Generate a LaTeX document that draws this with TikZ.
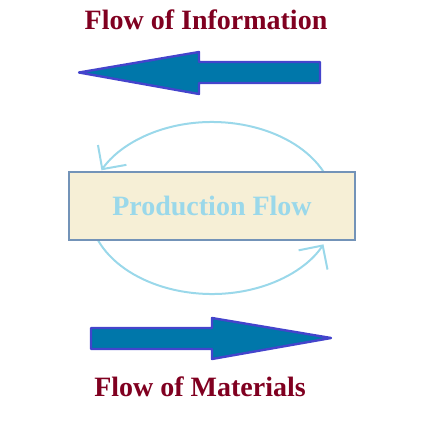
\documentclass[tikz,border=0pt]{standalone}
\usepackage{fontspec}
\setmainfont{Liberation Serif}
\usetikzlibrary{arrows.meta}
\definecolor{arrfill}{HTML}{0077AA}
\definecolor{arrline}{HTML}{4444CC}
\definecolor{boxfill}{HTML}{F6EFD6}
\definecolor{boxline}{HTML}{7393B8}
\definecolor{loopc}{HTML}{9AD8EA}
\definecolor{title}{HTML}{800020}
\tikzset{
  bigarrow/.style={draw=arrline, fill=arrfill, line width=1.8pt, line join=round},
  titletext/.style={font=\fontsize{21}{24}\selectfont\bfseries, text=title, inner sep=0pt, anchor=base},
  flowbox/.style={draw=boxline, fill=boxfill, line width=1.8pt, minimum width=214.5pt, minimum height=51pt, inner sep=0pt,
    font=\fontsize{21}{24}\selectfont\bfseries, text=loopc},
  loopline/.style={draw=loopc, line width=1.5pt, -{Straight Barb[length=13pt,width=26pt,line width=1.5pt]}}
}
\begin{document}
\begin{tikzpicture}[x=0.75pt,y=-0.75pt]
\useasboundingbox (0,0) rectangle (424,428);
% titles
\node[titletext] (info) at (206,30) {Flow of Information};
\node[titletext] (mat) at (200,396) {Flow of Materials};
% top arrow (pointing left)
\path[bigarrow] (320,62) -- (199,62) -- (199,52) -- (79,72.5) -- (199,94) -- (199,83) -- (320,83) -- cycle;
% bottom arrow (pointing right)
\path[bigarrow] (91,328) -- (212,328) -- (212,318) -- (331,338) -- (212,359) -- (212,349) -- (91,349) -- cycle;
% loop arcs
\coordinate (c) at (212,208);
\draw[loopline] ([shift={(-25:123 and 86)}]c) arc[start angle=-25, end angle=-154, x radius=123, y radius=86];
\draw[loopline] ([shift={(158:123 and 86)}]c) arc[start angle=158, end angle=25, x radius=123, y radius=86];
% box
\node[flowbox] (box) at (212,206) {Production Flow};
\end{tikzpicture}
\end{document}
